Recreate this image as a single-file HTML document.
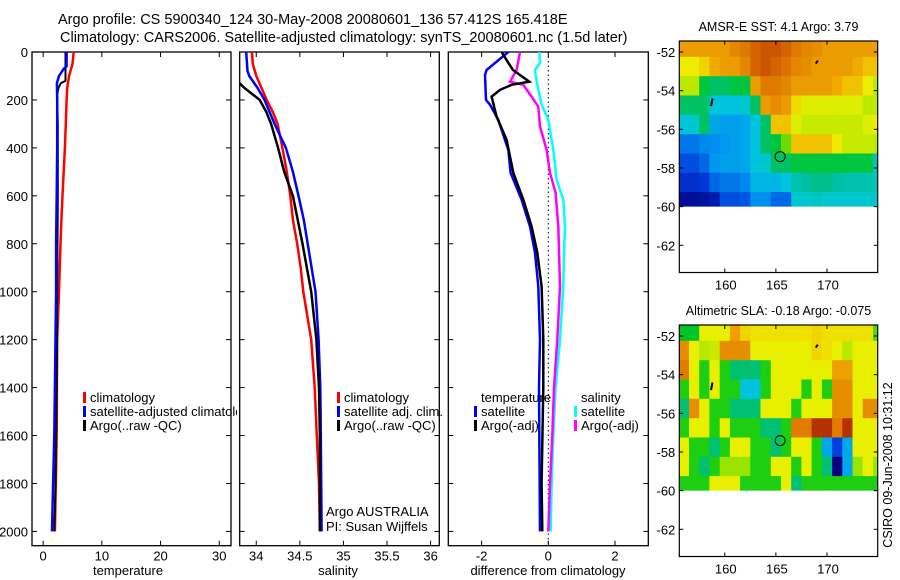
<!DOCTYPE html>
<html><head><meta charset="utf-8">
<style>
html,body{margin:0;padding:0;background:#fff;}
svg{display:block;font-family:"Liberation Sans",sans-serif;}
text{fill:#000;}
</style></head>
<body>
<svg id="fig" width="900" height="580" viewBox="0 0 900 580" xmlns="http://www.w3.org/2000/svg">
<defs><clipPath id="legclip"><rect x="0" y="380" width="237" height="60"/></clipPath></defs>
<rect x="0" y="0" width="900" height="580" fill="#fff"/>
<text x="58" y="24" font-size="14.5">Argo profile: CS 5900340_124 30-May-2008 20080601_136 57.412S 165.418E</text>
<text x="60" y="42" font-size="14.5">Climatology: CARS2006. Satellite-adjusted climatology: synTS_20080601.nc (1.5d later)</text>
<g id="g"></g>
</svg>
<script>
// ---- profile data ----
const tDepthClim = [0,50,100,150,200,300,400,500,600,700,800,1000,1200,1400,1600,1800,2000];
const tClim = [5.2,5.0,4.4,4.1,4.0,3.85,3.7,3.5,3.3,3.1,2.96,2.7,2.4,2.35,2.3,2.15,2.0];
const tDepthSat = [0,60,70,100,130,200,400,600,800,1000,1200,1400,1600,1800,2000];
const tSat = [4.0,4.0,3.5,2.7,2.35,2.4,2.4,2.3,2.2,2.2,2.1,2.0,1.9,1.7,1.5];
const tDepthArgo = [0,120,130,150,180,300,600,1000,1400,1800,2000];
const tArgo = [3.8,3.8,3.0,2.6,2.4,2.5,2.5,2.4,2.3,2.1,1.9];

const sDepthClim = [0,50,100,150,200,250,300,400,500,600,700,800,900,1000,1200,1400,1600,1800,2000];
const sClim = [33.95,33.96,34.0,34.06,34.12,34.19,34.245,34.3,34.35,34.39,34.42,34.47,34.51,34.54,34.63,34.67,34.695,34.72,34.73];
const sDepthSat = [0,80,100,150,200,300,400,500,600,700,800,1000,1200,1400,1600,2000];
const sSat = [33.885,33.9,33.92,34.015,34.095,34.21,34.34,34.42,34.485,34.545,34.59,34.68,34.715,34.735,34.74,34.75];
const sDepthArgo = [130,145,160,180,200,250,300,400,500,600,700,800,1000,1200,1400,1600,2000];
const sArgo = [33.81,33.85,33.9,33.97,34.04,34.115,34.17,34.25,34.32,34.42,34.475,34.53,34.63,34.69,34.72,34.73,34.73];

const dDepthTSat = [0,75,96,200,220,283,408,504,616,728,837,978,1200,1400,2000];
const dTSat = [-1.2,-1.85,-1.9,-1.87,-1.75,-1.5,-1.2,-1.13,-0.8,-0.55,-0.4,-0.3,-0.25,-0.28,-0.25];
const dDepthTArgo = [0,45,75,124,137,158,186,270,366,504,616,728,837,978,1200,1400,1800,2000];
const dTArgo = [-1.4,-1.2,-1.06,-0.57,-1.1,-1.45,-1.7,-1.55,-1.25,-1.05,-0.75,-0.5,-0.33,-0.2,-0.15,-0.15,-0.2,-0.18];
const dDepthSSat = [0,45,75,124,220,283,408,533,616,728,837,978,1200,1400,1600,1800,2000];
const dSSat = [-0.27,-0.25,-0.4,-0.35,-0.2,0,0.15,0.25,0.45,0.5,0.47,0.45,0.35,0.22,0.15,0.1,0.07];
const dDepthSArgo = [0,75,124,137,186,228,311,408,504,587,728,978,1200,1400,1600,1800,2000];
const dSArgo = [-0.85,-0.95,-1.15,-0.75,-0.5,-0.3,-0.25,-0.05,0.05,0.22,0.3,0.35,0.27,0.17,0.12,0.05,0.0];

const depthTicks = [0,200,400,600,800,1000,1200,1400,1600,1800,2000];
const tTicks = [0,10,20,30];
const sTicks = [34,34.5,35,35.5,36];
const dTicks = [-2,0,2];

// ---- map data ----
const mapLons = [156,157,158,159,160,161,162,163,164,165,166,167,168,169,170,171,172,173,174,175];
const mapLats = [-51.75,-52.75,-53.75,-54.75,-55.75,-56.75,-57.75,-58.75,-59.75];
const sstGrid = [
 [7,7,7,7,7,7.3,7.5,7.8,8,8,7.8,7.5,7.3,7.2,7,7,7,7,7,7],
 [6,6,6.3,6.8,7,7,7.3,7.8,8,7.8,7.6,7.3,7.2,7,7,7,7,6.8,6.5,6.5],
 [5.5,5.5,4.2,4,4,4.2,4.2,7,7.5,7.5,7.3,7,7,7,7,6.8,6.5,6.5,6,5.5],
 [4,4,4,3,3,3,3.2,4,7,7.2,7,6.2,5.8,5.8,5.8,5.8,5.8,5.8,5.5,5.5],
 [3,3.2,4,2.6,2.5,2.5,2.6,3,4,6.5,6.5,5.8,5.6,5.6,5.6,5.6,5.6,5.6,5.8,6],
 [2,2,2.2,2.3,2.4,2.5,2.6,3,4,4.2,5,6.5,6.5,6.5,6.5,6,5.6,5.6,5.6,5.5],
 [1.5,1.5,1.8,2.4,2.5,2.5,2.6,3,3.2,4,4,4.2,4.2,4.2,4.2,4.2,4.2,4.2,4.2,3.4],
 [1,1,1.2,1.8,2,2,2.2,2.8,2.8,2.8,3,3.5,3.6,3.8,3.8,3.6,3.5,3.5,3.5,3.4],
 [0.3,0.3,0.4,0.6,1.5,1.5,1.6,2.3,2.3,1.8,1.8,3.2,3.2,3.3,3.2,3.2,3.2,3.2,3.2,3.2]
];
const slaGrid = [
 [-0.12,-0.12,0,0,0,0.08,0.03,0.02,0.02,0.02,0.02,0.02,0.02,0.03,0.02,0.02,0.02,0.02,0.02,-0.08],
 [0.1,0,-0.03,-0.02,0.1,0.1,0.1,0,0,0,0,0,0,0.03,0.02,0,-0.03,0,0,0],
 [0.12,0,-0.1,0,-0.1,-0.15,-0.15,-0.15,-0.1,0,0,0,0,0,0,0.08,0.08,0,0,0],
 [-0.1,0,-0.1,0,-0.1,-0.1,-0.22,-0.22,-0.1,0,0,0,-0.1,0,-0.1,0.1,0.1,0,0,0],
 [-0.15,0.1,0,-0.1,-0.1,-0.15,-0.15,-0.15,0,0,0,-0.1,0,0,0,0.1,0.1,0,0.1,0.1],
 [-0.1,0,0,-0.1,0,-0.1,-0.1,-0.1,-0.15,-0.15,-0.1,0.12,0.12,0.22,0.22,0.12,0.2,0,0,0],
 [0,-0.1,-0.1,-0.15,-0.1,0,0,-0.1,-0.1,-0.15,-0.1,0,0,-0.1,-0.25,-0.35,-0.25,0,0,0],
 [0,-0.1,-0.15,-0.1,-0.05,-0.05,-0.05,-0.1,-0.1,0,0,-0.1,0,-0.1,-0.15,-0.45,-0.25,-0.05,0,-0.05],
 [-0.1,-0.1,-0.1,0,0,0,-0.1,-0.1,-0.1,-0.1,0,-0.15,-0.1,-0.1,-0.1,-0.1,-0.1,-0.1,-0.1,-0.1]
];
const latTicks = [-52,-54,-56,-58,-60,-62];
const lonTicks = [160,165,170];
const argoLon = 165.418, argoLat = -57.412;

const NS = "http://www.w3.org/2000/svg";
const G = document.getElementById('g');
function mk(tag, attrs, parent){const e=document.createElementNS(NS,tag);for(const k in attrs)e.setAttribute(k,attrs[k]);(parent||G).appendChild(e);return e;}

const PT = 52, PB = 545.7;
const yD = d => PT + d*0.2397;
const panels = [
 {l:32,r:231,min:-1.9,max:32,ticks:tTicks,label:'temperature',lx:128},
 {l:239.7,r:439.3,min:33.81,max:36.1,ticks:sTicks,label:'salinity',lx:338},
 {l:448.3,r:648.3,min:-3.0,max:3.0,ticks:dTicks,label:'difference from climatology',lx:548}
];
panels.forEach(p=>{p.x=v=>p.l+(v-p.min)/(p.max-p.min)*(p.r-p.l);});

function drawAxes(p, idx){
  const box = mk('rect',{x:p.l,y:PT,width:p.r-p.l,height:PB-PT,fill:'none',stroke:'#000','stroke-width':1.3});
  
  
  depthTicks.forEach(d=>{
    const y=yD(d);
    const t1=mk('line',{x1:p.l,x2:p.l+5,y1:y,y2:y,stroke:'#000'});
    
    
    const t2=mk('line',{x1:p.r-5,x2:p.r,y1:y,y2:y,stroke:'#000'});
    
    
    if(idx===0){
      const tl=mk('text',{x:p.l-4,y:y+5,'font-size':13,'text-anchor':'end'});
      tl.textContent=d;
      
      
    }
  });
  p.ticks.forEach(v=>{
    const x=p.x(v);
    const a=mk('line',{x1:x,x2:x,y1:PB,y2:PB-5,stroke:'#000'});
    
    
    const b=mk('line',{x1:x,x2:x,y1:PT,y2:PT+5,stroke:'#000'});
    
    
    const tl=mk('text',{x:x,y:PB+15,'font-size':13,'text-anchor':'middle'});
    tl.textContent=v;
    
    
  });
  const al=mk('text',{x:p.lx,y:575,'font-size':13,'text-anchor':'middle'});
  al.textContent=p.label;
  
  
}
panels.forEach(drawAxes);

const zl = mk('line',{x1:panels[2].x(0),x2:panels[2].x(0),y1:PT,y2:PB,stroke:'#000','stroke-dasharray':'1.5,3','stroke-width':1});



function profile(p, depths, vals, color, name, w){
  const pts = depths.map((d,i)=>p.x(vals[i]).toFixed(1)+','+yD(d).toFixed(1)).join(' ');
  const pl = mk('polyline',{points:pts,fill:'none',stroke:color,'stroke-width':w||2.5,'stroke-linejoin':'miter'});
  
  
}
profile(panels[0],tDepthClim,tClim,'#f00','temperature-climatology-line');
profile(panels[0],tDepthArgo,tArgo,'#000','temperature-argo-line',2);
profile(panels[0],tDepthSat,tSat,'#00f','temperature-satellite-line');
profile(panels[1],sDepthClim,sClim,'#f00','salinity-climatology-line');
profile(panels[1],sDepthSat,sSat,'#00f','salinity-satellite-line');
profile(panels[1],sDepthArgo,sArgo,'#000','salinity-argo-line');
profile(panels[2],dDepthSSat,dSSat,'#0ff','salinity-satellite-diff-line');
profile(panels[2],dDepthSArgo,dSArgo,'#f0f','salinity-argo-diff-line');
profile(panels[2],dDepthTSat,dTSat,'#00f','temperature-satellite-diff-line');
profile(panels[2],dDepthTArgo,dTArgo,'#000','temperature-argo-diff-line');

function legend(x,y,color,label,name,clip){
  if(color){
    const b=mk('rect',{x:x-7,y:y-10,width:3,height:11,fill:color});
    
    
  }
  const t=mk('text',{x:x,y:y,'font-size':13});
  if(clip) t.setAttribute('clip-path','url(#legclip)');
  t.textContent=label;
  
  
}
legend(90,402,'#f00','climatology','legend-climatology');
legend(90,416,'#00f','satellite-adjusted climatology','legend-satellite-adjusted',true);
legend(90,430,'#000','Argo(..raw -QC)','legend-argo');
legend(344,402,'#f00','climatology','legend-sal-climatology');
legend(344,416,'#00f','satellite adj. clim.','legend-sal-satellite');
legend(344,430,'#000','Argo(..raw -QC)','legend-sal-argo');
legend(481,402,null,'temperature','legend-temperature-heading');
legend(481,416,'#00f','satellite','legend-temp-satellite');
legend(481,430,'#000','Argo(-adj)','legend-temp-argo');
legend(581,402,null,'salinity','legend-salinity-heading');
legend(581,416,'#0ff','satellite','legend-sal-diff-satellite');
legend(581,430,'#f0f','Argo(-adj)','legend-sal-diff-argo');
legend(326,516,null,'Argo AUSTRALIA','argo-australia-credit');
legend(326,531,null,'PI: Susan Wijffels','pi-credit');

// ---- maps ----
const palStops = [[0,[0,0,130]],[0.15,[0,60,220]],[0.28,[0,150,240]],[0.36,[0,200,220]],[0.44,[0,190,150]],[0.52,[0,200,20]],[0.62,[160,230,0]],[0.7,[240,240,0]],[0.8,[240,170,0]],[0.9,[220,110,0]],[1,[180,50,0]]];
function pal(t){t=Math.max(0,Math.min(1,t));for(let i=1;i<palStops.length;i++){if(t<=palStops[i][0]){const a=palStops[i-1],b=palStops[i];const f=(t-a[0])/(b[0]-a[0]);const c=a[1].map((v,k)=>Math.round(v+(b[1][k]-v)*f));return 'rgb('+c.join(',')+')';}}return 'rgb(180,50,0)';}

function drawMap(top, grid, vmin, vmax, title, id){
  const L=679.3,R=877.7,B=top+231.5;
  const xL = lon => L+(lon-155.55)*10.22;
  const yL = lat => top+11+(-52-lat)*19.33;
  const cp = mk('clipPath',{id:'clip'+id});
  mk('rect',{x:L,y:top,width:R-L,height:yL(-60)-top},cp);
  const g = mk('g',{'clip-path':'url(#clip'+id+')'});
  
  
  mapLats.forEach((lat,i)=>{
    mapLons.forEach((lon,j)=>{
      const x0=xL(lon-0.5), x1=xL(lon+0.5), y0=yL(lat+0.5), y1=yL(lat-0.5);
      const c = mk('rect',{x:x0.toFixed(1),y:y0.toFixed(1),width:(x1-x0+0.6).toFixed(1),height:(y1-y0+0.6).toFixed(1),fill:pal((grid[i][j]-vmin)/(vmax-vmin))},g);
      
      
    });
  });
  const fr = mk('rect',{x:L,y:top,width:R-L,height:B-top,fill:'none',stroke:'#000','stroke-width':1.2});
  
  
  latTicks.forEach(v=>{
    const y=yL(v);
    const a=mk('line',{x1:L,x2:L+4,y1:y,y2:y,stroke:'#000'});
    
    
    const b=mk('line',{x1:R-4,x2:R,y1:y,y2:y,stroke:'#000'});
    
    
    const t=mk('text',{x:L-4,y:y+5,'font-size':13,'text-anchor':'end'});
    t.textContent=v;
    
    
  });
  lonTicks.forEach(v=>{
    const x=xL(v);
    const a=mk('line',{x1:x,x2:x,y1:B,y2:B-4,stroke:'#000'});
    
    
    const b=mk('line',{x1:x,x2:x,y1:top,y2:top+4,stroke:'#000'});
    
    
    const t=mk('text',{x:x+1,y:B+17,'font-size':13,'text-anchor':'middle'});
    t.textContent=v;
    
    
  });
  const ci = mk('circle',{cx:xL(argoLon),cy:yL(argoLat),r:5,fill:'none',stroke:'#000','stroke-width':1});
  
  
  const m1 = mk('line',{x1:xL(158.8),y1:yL(-54.4),x2:xL(158.65),y2:yL(-54.8),stroke:'#000','stroke-width':2});
  
  
  const m2 = mk('line',{x1:xL(169.1),y1:yL(-52.45),x2:xL(168.9),y2:yL(-52.6),stroke:'#000','stroke-width':2});
  
  
  const tt = mk('text',{x:(L+R)/2,y:top-10,'font-size':12.5,'text-anchor':'middle'});
  tt.textContent=title;
  
  
}
drawMap(41,sstGrid,0,8.5,'AMSR-E SST: 4.1 Argo: 3.79','sst-map');
drawMap(325,slaGrid,-0.45,0.2,'Altimetric SLA: -0.18 Argo: -0.075','sla-map');

const cs = mk('text',{x:0,y:0,'font-size':12.5,'text-anchor':'middle',transform:'translate(892,465) rotate(-90)'});
cs.textContent='CSIRO 09-Jun-2008 10:31:12';


</script>
</body></html>
